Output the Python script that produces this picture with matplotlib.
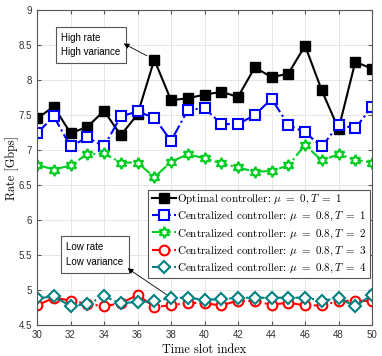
import matplotlib
matplotlib.use("Agg")
import matplotlib.pyplot as plt
import numpy as np

# time slots
slots = np.arange(30, 51)

# rates [Gbps]
optimal = [7.45, 7.62, 7.24, 7.33, 7.56, 7.21, 7.51, 8.29, 7.71, 7.74, 7.79,
           7.83, 7.76, 8.18, 8.04, 8.09, 8.49, 7.85, 7.30, 8.26, 8.16]
central_t1 = [7.24, 7.48, 7.05, 7.18, 7.05, 7.48, 7.55, 7.46, 7.13, 7.57, 7.60,
              7.37, 7.37, 7.50, 7.73, 7.36, 7.25, 7.05, 7.36, 7.31, 7.62]
central_t2 = [6.79, 6.72, 6.78, 6.94, 6.95, 6.82, 6.82, 6.61, 6.83, 6.94, 6.88,
              6.81, 6.75, 6.69, 6.70, 6.78, 7.07, 6.85, 6.94, 6.86, 6.82]
central_t3 = [4.78, 4.89, 4.85, 4.80, 4.77, 4.81, 4.93, 4.76, 4.78, 4.82, 4.81,
              4.78, 4.85, 4.84, 4.79, 4.82, 4.78, 4.78, 4.84, 4.85, 4.84]
central_t4 = [4.88, 4.91, 4.77, 4.80, 4.91, 4.81, 4.83, 4.84, 4.89, 4.89, 4.86,
              4.87, 4.89, 4.89, 4.89, 4.89, 4.89, 4.85, 4.88, 4.77, 4.93]

labels = [r"Optimal controller: $\mu\ =\ 0, T\ =\ 1$",
          r"Centralized controller: $\mu\ =\ 0.8, T\ =\ 1$",
          r"Centralized controller: $\mu\ =\ 0.8, T\ =\ 2$",
          r"Centralized controller: $\mu\ =\ 0.8, T\ =\ 3$",
          r"Centralized controller: $\mu\ =\ 0.8, T\ =\ 4$"]

plt.rcParams['mathtext.fontset'] = 'cm'

fig = plt.figure(figsize=(3.82, 3.56), dpi=100)
ax = fig.add_axes([0.097, 0.087, 0.877, 0.885])

ax.plot(slots, optimal, '-', color='black', marker='s', ms=7, mfc='black',
        mec='black', lw=1.5, label=labels[0])
ax.plot(slots, central_t1, '-.', color='blue', marker='s', ms=6.5, mfc='white',
        mec='blue', mew=1.5, lw=1.5, label=labels[1])
ax.plot(slots, central_t2, '-.', color='#00cc22', marker=(6, 1, 0), ms=8,
        mfc='white', mec='#00cc22', mew=1.5, lw=1.5, label=labels[2])
ax.plot(slots, central_t3, '-.', color='red', marker='o', ms=7, mfc='white',
        mec='red', mew=1.5, lw=1.5, label=labels[3])
ax.plot(slots, central_t4, '-.', color='#008080', marker='D', ms=6.5, mfc='white',
        mec='#008080', mew=1.5, lw=1.5, label=labels[4])

ax.set_xlim(30, 50)
ax.set_ylim(4.5, 9)
ax.set_xticks(np.arange(30, 51, 2))
ax.set_yticks(np.arange(4.5, 9.01, 0.5))
ax.set_yticklabels(['4.5', '5', '5.5', '6', '6.5', '7', '7.5', '8', '8.5', '9'])
ax.grid(True, color='#e6e6e6', lw=0.7)
ax.set_axisbelow(True)
ax.tick_params(direction='in', top=True, right=True, labelsize=7,
               labelcolor='#333333', color='#555555', length=3)
for lab in ax.get_xticklabels() + ax.get_yticklabels():
    lab.set_fontfamily('Liberation Sans')
for sp in ax.spines.values():
    sp.set_color('#555555')

ax.set_xlabel("Time slot index", fontsize=8.8, fontname='cmr10', labelpad=3)
ax.set_ylabel("Rate [Gbps]", fontsize=8.8, fontname='cmr10', labelpad=0)

leg = ax.legend(loc='upper right', bbox_to_anchor=(0.995, 0.43),
                prop={'family': 'cmr10', 'size': 8}, fancybox=False,
                edgecolor='#555555', framealpha=1, handlelength=2.2,
                handletextpad=0.1, borderpad=0.3, labelspacing=0.25,
                borderaxespad=0)
leg.get_frame().set_linewidth(0.8)

box = dict(boxstyle='square,pad=0.6', fc='white', ec='#555555', lw=0.8)
ax.text(31.45, 8.5, "High rate\nHigh variance", fontsize=7,
        fontfamily='Liberation Sans', va='center', ha='left', bbox=box,
        linespacing=1.6)
ax.annotate('', xy=(35.17, 8.52), xytext=(slots[7], optimal[7]),
            arrowprops=dict(arrowstyle='-|>', color='black', lw=0.6,
                            shrinkA=6, shrinkB=0, mutation_scale=8))
ax.text(31.75, 5.505, "Low rate\nLow variance", fontsize=7,
        fontfamily='Liberation Sans', va='center', ha='left', bbox=box,
        linespacing=1.6)
ax.annotate('', xy=(35.41, 5.31), xytext=(slots[8], central_t4[8]),
            arrowprops=dict(arrowstyle='-|>', color='black', lw=0.6,
                            shrinkA=4, shrinkB=0, mutation_scale=8))

fig.savefig("out.png", dpi=100)
